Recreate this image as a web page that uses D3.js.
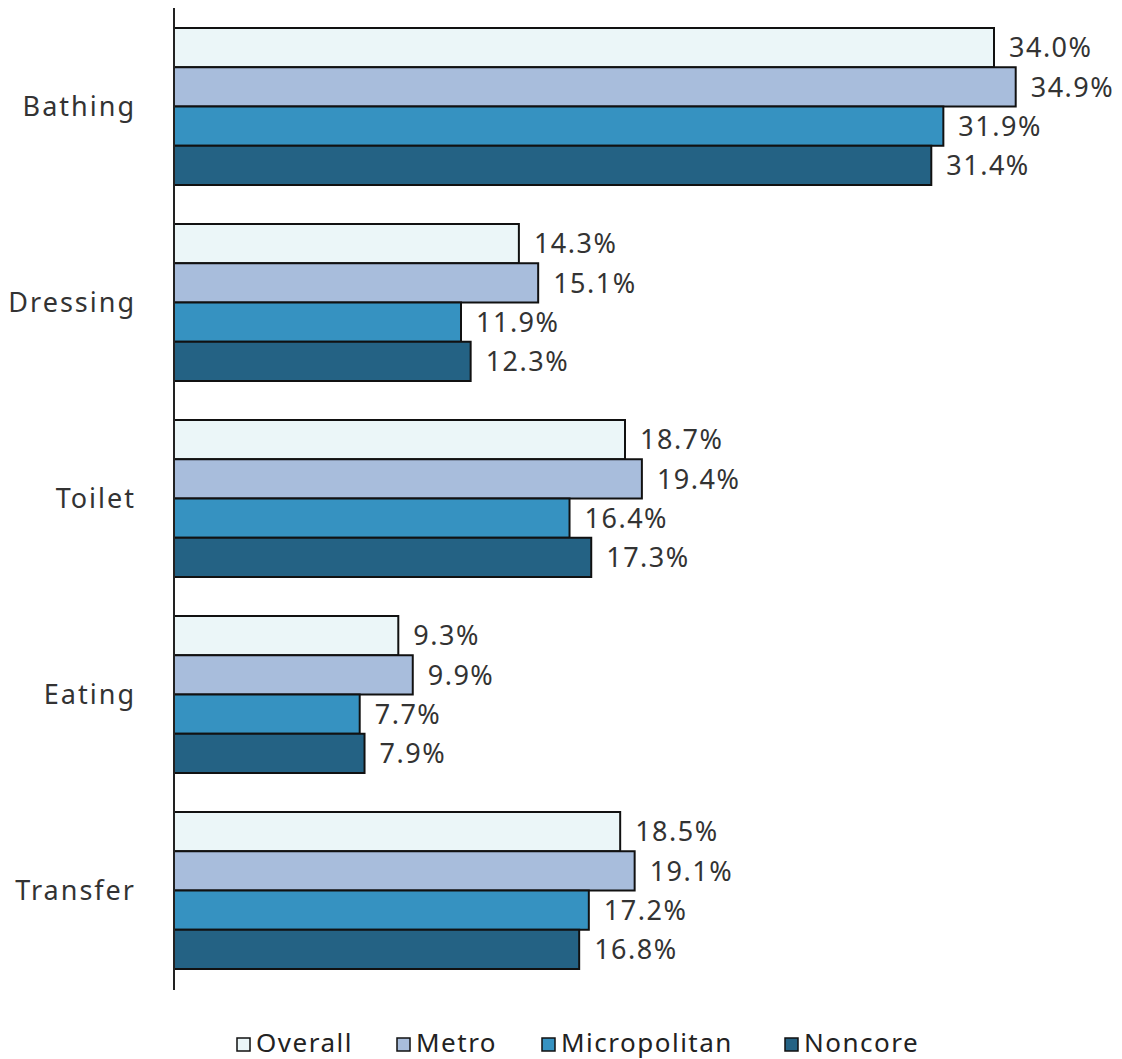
<!DOCTYPE html>
<html>
<head>
<meta charset="utf-8">
<script src="https://cdn.jsdelivr.net/npm/d3@7"></script>
<style>
  body { margin: 0; background: #fff; }
  text { font-family: "Noto Sans", sans-serif; fill: #333; }
  .legend text { fill: #222; }
</style>
</head>
<body>
<div class="graphic"></div>
<script>
const categories = ["Bathing", "Dressing", "Toilet", "Eating", "Transfer"]
const series = ["Overall", "Metro", "Micropolitan", "Noncore"]
const colors = ["#ebf6f8", "#a8bddc", "#3692c1", "#246284"]

const overall = [34.0, 14.3, 18.7, 9.3, 18.5]
const metro = [34.9, 15.1, 19.4, 9.9, 19.1]
const micropolitan = [31.9, 11.9, 16.4, 7.7, 17.2]
const noncore = [31.4, 12.3, 17.3, 7.9, 16.8]
const values = [overall, metro, micropolitan, noncore]

const width = 1122
const height = 1059

let svg = d3.select(".graphic").append("svg")
    .attr("width", width)
    .attr("height", height)

// axis line sits at 174, 34% ends at ~994
let x = d3.scaleLinear().domain([0, 34]).range([174, 994])

// each group is 157px of bars with a 39px gap
let y0 = d3.scaleBand()
    .domain(categories)
    .range([28, 28 + 157 * 5 + 39 * 4])
    .paddingInner(39 / 196)
    .paddingOuter(0)

let y1 = d3.scaleBand()
    .domain(series)
    .range([0, y0.bandwidth()])

let groups = svg.selectAll("g.group")
    .data(categories)
    .enter()
    .append("g")
    .attr("class", "group")
    .attr("transform", d => "translate(0," + y0(d) + ")")

groups.each(function(cat, ci){
    let g = d3.select(this)
    series.forEach(function(s, si){
        let v = values[si][ci]
        g.append("rect")
            .attr("x", x(0))
            .attr("y", y1(s))
            .attr("width", x(v) - x(0))
            .attr("height", y1.bandwidth())
            .attr("fill", colors[si])
            .attr("stroke", "#111")
            .attr("stroke-width", 2)

        g.append("text")
            .attr("x", x(v) + 15)
            .attr("y", y1(s) + y1.bandwidth() / 2)
            .attr("dy", "0.36em")
            .style("font-size", "27px")
            .style("letter-spacing", "1.5px")
            .text(v.toFixed(1) + "%")
    })

    g.append("text")
        .attr("x", 136)
        .attr("y", y0.bandwidth() / 2)
        .attr("dy", "0.36em")
        .attr("text-anchor", "end")
        .style("font-size", "27px")
        .style("letter-spacing", "2px")
        .text(cat)
})

// vertical axis
svg.append("line")
    .attr("x1", 174).attr("x2", 174)
    .attr("y1", 8).attr("y2", 990)
    .attr("stroke", "#222")
    .attr("stroke-width", 2)

// legend
let legendX = [237, 397, 542, 785]
let legend = svg.append("g").attr("class", "legend")
series.forEach(function(s, i){
    legend.append("rect")
        .attr("x", legendX[i])
        .attr("y", 1038)
        .attr("width", 13)
        .attr("height", 13)
        .attr("fill", colors[i])
        .attr("stroke", "#111")
        .attr("stroke-width", 1.5)
    legend.append("text")
        .attr("x", legendX[i] + 19)
        .attr("y", 1052)
        .style("font-size", "26px")
        .style("letter-spacing", "1.5px")
        .text(s)
})
</script>
</body>
</html>
